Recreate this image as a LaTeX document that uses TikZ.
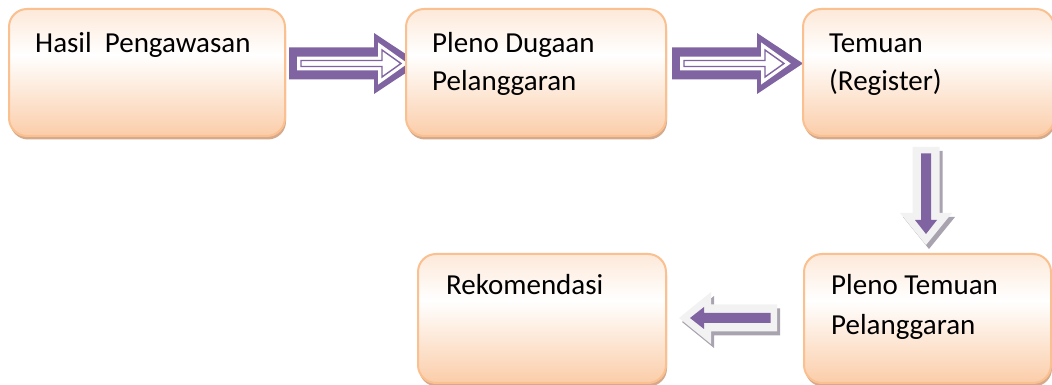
\documentclass[tikz,border=0pt]{standalone}
\usepackage{fontspec}
\setmainfont{Carlito}
\usetikzlibrary{calc,backgrounds}

\definecolor{boxline}{HTML}{FAC08F}
\definecolor{boxtop}{HTML}{FDE9D9}
\definecolor{boxbot}{HTML}{FBCDA9}
\definecolor{boxshade}{HTML}{D4A98C}
\definecolor{arrowpurple}{HTML}{8064A2}
\definecolor{arrowlight}{HTML}{F2F2F2}
\definecolor{arrowshade}{HTML}{A8A3AF}

% peach gradient: light at the top, almost white above the middle, peach below
\pgfdeclareverticalshading{boxfill}{100bp}{color(0bp)=(boxbot); color(25bp)=(boxbot);
  color(57bp)=(white); color(75bp)=(boxtop); color(100bp)=(boxtop)}

\tikzset{
  stepbox/.style={rounded corners=18pt, draw=boxline, line width=2pt, shading=boxfill,
    inner sep=0pt, anchor=north west,
    preaction={fill=boxshade, transform canvas={xshift=1pt,yshift=-3.5pt}}},
  steptext/.style={anchor=base west, inner sep=0pt, font=\fontsize{29}{35}\selectfont},
  % purple block arrow with a white double outline inside, pointing right
  dblarrow/.pic={
    \fill[arrowpurple] (0,16) -- (85,16) -- (85,30.5) -- (131,0) -- (85,-30.5)
      -- (85,-16) -- (0,-16) -- cycle;
    \filldraw[fill=white, draw=white, line width=3.2pt, double=arrowpurple,
      double distance=1.4pt]
      (12,3) -- (93,3) -- (93,13.5) -- (112,0) -- (93,-13.5) -- (93,-3) -- (12,-3) -- cycle;
  },
  % light block arrow with a purple core, pointing right
  lightshape/.pic={
    \fill[pic actions] (0,13.5) -- (66,13.5) -- (66,26) -- (98,0) -- (66,-26)
      -- (66,-13.5) -- (0,-13.5) -- cycle;
  },
  corearrow/.pic={
    \fill[arrowpurple] (6.5,5) -- (73,5) -- (73,11) -- (87,0) -- (73,-11)
      -- (73,-5) -- (6.5,-5) -- cycle;
  },
}

\newcommand\lightblockarrow[2]{% #1 tail coordinate, #2 direction angle
  \pic[fill=arrowshade, shift={($(#1)+(3,-4)$)}, rotate=#2] {lightshape};
  \pic[fill=arrowlight, shift={(#1)}, rotate=#2] {lightshape};
  \pic[shift={(#1)}, rotate=#2] {corearrow};
}

\begin{document}
\begin{tikzpicture}[x=1pt, y=1pt]
  \useasboundingbox (0,0) rectangle (1052,385);

  % process boxes
  \node[stepbox, minimum width=276pt, minimum height=127pt] (b1) at (8,377) {};
  \node[stepbox, minimum width=260pt, minimum height=127pt] (b2) at (405,377) {};
  \node[stepbox, minimum width=251pt, minimum height=127pt] (b3) at (802,377) {};
  \node[stepbox, minimum width=248pt, minimum height=129pt] (b4) at (417,132) {};
  \node[stepbox, minimum width=247pt, minimum height=129pt] (b5) at (803,132) {};

  % box texts
  \node[steptext] (t1)  at ($(b1.north west)+(27,-45)$) {Hasil\ \ Pengawasan};
  \node[steptext] (t2a) at ($(b2.north west)+(27,-45)$) {Pleno Dugaan};
  \node[steptext] (t2b) at ($(b2.north west)+(27,-83)$) {Pelanggaran};
  \node[steptext] (t3a) at ($(b3.north west)+(27,-45)$) {Temuan};
  \node[steptext] (t3b) at ($(b3.north west)+(27,-83)$) {(Register)};
  \node[steptext] (t4)  at ($(b4.north west)+(29,-42)$) {Rekomendasi};
  \node[steptext] (t5a) at ($(b5.north west)+(28,-42)$) {Pleno Temuan};
  \node[steptext] (t5b) at ($(b5.north west)+(28,-82)$) {Pelanggaran};

  % arrow tails, taken from the boxes they leave
  \coordinate (a1) at ($(b1.east)+(3,9)$);
  \coordinate (a2) at ($(b2.east)+(5,9)$);
  \coordinate (a3) at ($(b3.south)+(-2.5,-10)$);
  \coordinate (a4) at ($(b5.west)+(-26,0.5)$);

  % connectors (behind the boxes)
  \begin{pgfonlayer}{background}
    \pic at (a1) {dblarrow};
    \pic at (a2) {dblarrow};
  \end{pgfonlayer}
  \lightblockarrow{a3}{-90}
  \lightblockarrow{a4}{180}
\end{tikzpicture}
\end{document}
